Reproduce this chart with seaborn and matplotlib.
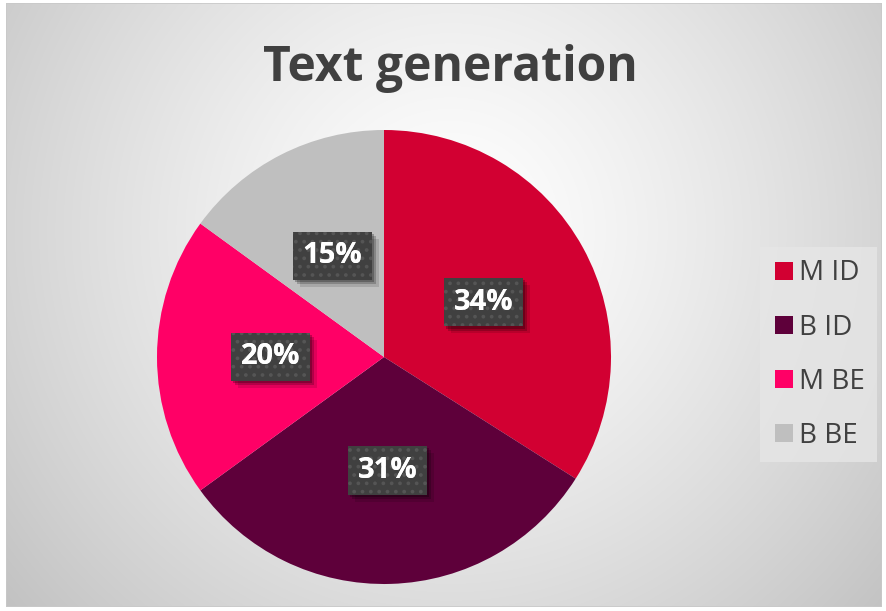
import numpy as np
import matplotlib
matplotlib.use("Agg")
import matplotlib.pyplot as plt
import matplotlib.patheffects as pe
from matplotlib.lines import Line2D
from matplotlib.patches import Rectangle
import seaborn as sns

# ---- data ----
categories = ["M ID", "B ID", "M BE", "B BE"]
values = [34, 31, 20, 15]
colors = ["#D20032", "#5E003A", "#FF0066", "#BFBFBF"]
title = "Text generation"

sns.set_theme(style="white")
plt.rcParams["font.family"] = ["Open Sans", "DejaVu Sans"]
plt.rcParams["hatch.linewidth"] = 1.5

W, H = 886, 611
fig = plt.figure(figsize=(W / 100, H / 100), dpi=100)
fig.patch.set_facecolor("white")

# background with radial gradient
x0, y0, x1, y1 = 6, 3, 882, 607  # pixel box (top-origin y)
bg = fig.add_axes([x0 / W, 1 - y1 / H, (x1 - x0) / W, (y1 - y0) / H])
bg.set_axis_off()
gx, gy = np.meshgrid(np.arange(x0, x1), np.arange(y0, y1))
cx, cy = 450, 230
d = np.sqrt((gx - cx) ** 2 + (gy - cy) ** 2)
d = d / d.max()
b = 1.0 - 0.24 * d ** 1.3
bg.imshow(np.dstack([b, b, b]), aspect="auto", extent=[0, 1, 0, 1], origin="upper")
bg.add_patch(Rectangle((0, 0), 1, 1, transform=bg.transAxes, fill=False,
                       edgecolor="#c9c9c9", linewidth=1.2))

# pie
pcx, pcy, r = 384, 357, 227
ax = fig.add_axes([(pcx - r) / W, 1 - (pcy + r) / H, 2 * r / W, 2 * r / H])
wedges, texts, autotexts = ax.pie(
    values, colors=colors, startangle=90, counterclock=False,
    autopct=lambda p: f"{p:.0f}%", pctdistance=0.5,
    wedgeprops=dict(linewidth=0),
    textprops=dict(color="white", fontsize=21, fontweight="bold"),
)
ax.set_xlim(-1, 1)
ax.set_ylim(-1, 1)
for t in autotexts:
    # base box with soft shadow
    t.set_bbox(dict(boxstyle="square,pad=0.33", facecolor="#404040",
                    edgecolor="none", linewidth=0))
    t.get_bbox_patch().set_path_effects(
        [pe.SimplePatchShadow(offset=(5, -5), shadow_rgbFace="black", alpha=0.12),
         pe.SimplePatchShadow(offset=(3, -3), shadow_rgbFace="black", alpha=0.2),
         pe.SimplePatchShadow(offset=(1.5, -1.5), shadow_rgbFace="black", alpha=0.25),
         pe.Normal()])
    # dotted texture overlay with the same text on top
    x, y = t.get_position()
    ax.text(x, y, t.get_text(), ha="center", va="center", color="white",
            fontsize=21, fontweight="bold",
            bbox=dict(boxstyle="square,pad=0.33", facecolor="none",
                      edgecolor="#555555", linewidth=0, hatch=".."))

# title
tt = fig.text(450 / W, 1 - 81 / H, title, ha="center", va="baseline",
              fontsize=36, fontweight="bold", color="#404040")
fig.canvas.draw()
wpx = tt.get_window_extent().width
tt.set_fontsize(36 * 375 / wpx)

# legend
handles = [Line2D([], [], marker="s", linestyle="none", markersize=13,
                  markerfacecolor=c, markeredgewidth=0) for c in colors]
leg = fig.legend(handles, categories, loc="upper left",
                 bbox_to_anchor=(760 / W, 1 - 247 / H),
                 fontsize=20, labelcolor="#404040", frameon=True,
                 fancybox=False, handlelength=0.8, handletextpad=0.15,
                 labelspacing=0.94, borderpad=0.45, borderaxespad=0)
fr = leg.get_frame()
fr.set_facecolor("#e6e6e6")
fr.set_alpha(0.8)
fr.set_linewidth(0)

fig.savefig("out.png", dpi=100)
